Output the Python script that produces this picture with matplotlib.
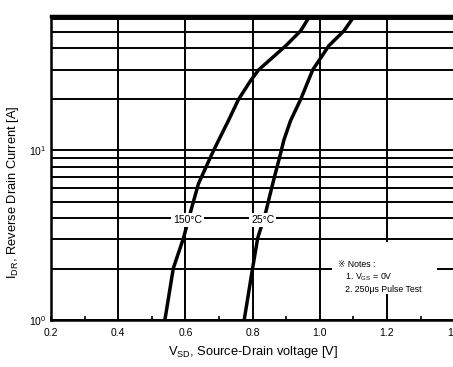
import numpy as np
import matplotlib
matplotlib.use('Agg')
import matplotlib.pyplot as plt
from matplotlib.ticker import FixedLocator, NullFormatter

plt.rcParams['font.family'] = ['Liberation Sans', 'DejaVu Sans']
plt.rcParams['mathtext.default'] = 'regular'

# curve points: (V_SD [V], I_DR [A])
v_150 = [0.538, 0.540, 0.564, 0.594, 0.615, 0.639, 0.681, 0.699, 0.728, 0.758,
         0.794, 0.818, 0.899, 0.943, 0.967]
i_150 = [1.0, 1.03, 2.02, 3.03, 4.32, 6.38, 9.73, 11.5, 15.0, 20.0,
         25.8, 29.9, 41.5, 50.8, 60.6]
v_25 = [0.775, 0.776, 0.800, 0.815, 0.839, 0.860, 0.884, 0.893, 0.913, 0.943,
        0.979, 0.997, 1.027, 1.072, 1.099]
i_25 = [1.0, 1.03, 2.02, 3.03, 4.32, 6.38, 9.73, 11.5, 15.0, 20.0,
        29.9, 33.8, 41.5, 50.8, 60.6]

x_ticks = [0.2, 0.4, 0.6, 0.8, 1.0, 1.2, 1.4]
x_labels = ['0.2', '0.4', '0.6', '0.8', '1.0', '1.2', '1.4']
y_grid = [1, 2, 3, 4, 5, 6, 7, 8, 9, 10, 20, 30, 40, 50, 60]

fig = plt.figure(figsize=(4.53, 3.67), dpi=100)
ax = fig.add_axes([0.1126, 0.128, 0.89, 0.828])

ax.set_yscale('log')
ax.set_xlim(0.2, 1.4)
ax.set_ylim(1, 62)

# grid
for y in y_grid:
    ax.axhline(y, color='black', lw=1.4, zorder=1)
for x in x_ticks:
    ax.axvline(x, color='black', lw=1.4, zorder=1)

ax.plot(v_150, i_150, color='black', lw=2.5, zorder=3)
ax.plot(v_25, i_25, color='black', lw=2.5, zorder=3)

box = dict(facecolor='white', edgecolor='none', pad=1.5)
ax.text(0.606, 3.9, '150°C', fontsize=7.5, ha='center', va='center', bbox=box, zorder=4)
ax.text(0.83, 3.9, '25°C', fontsize=7.5, ha='center', va='center', bbox=box, zorder=4)

# white patch for the notes
ax.fill_between([1.037, 1.35], 1.42, 2.9, color='white', lw=0, zorder=2)
ax.text(1.055, 1.8,
        '※ Notes :\n   1. V$_{GS}$ = 0V\n   2. 250μs Pulse Test',
        fontsize=6.3, ha='left', va='center', linespacing=1.3, zorder=4)

ax.xaxis.set_major_locator(FixedLocator(x_ticks))
ax.set_xticklabels(x_labels)
ax.xaxis.set_minor_locator(FixedLocator([0.3, 0.5, 0.7, 0.9, 1.1, 1.3]))
ax.yaxis.set_major_locator(FixedLocator([1, 10]))
ax.set_yticklabels(['10$^0$', '10$^1$'])
ax.yaxis.set_minor_locator(FixedLocator([2, 3, 4, 5, 6, 7, 8, 9, 20, 30, 40, 50]))
ax.yaxis.set_minor_formatter(NullFormatter())
ax.tick_params(which='both', direction='in', labelsize=7.5, length=3, width=1.2)
ax.tick_params(axis='x', pad=6)

for s in ax.spines.values():
    s.set_linewidth(1.8)
ax.spines['top'].set_linewidth(2.5)

ax.set_xlabel('V$_{SD}$, Source-Drain voltage [V]', fontsize=9.3, labelpad=4)
ax.set_ylabel('I$_{DR}$, Reverse Drain Current [A]', fontsize=9.3)
ax.yaxis.set_label_coords(-0.075, 0.42)

fig.savefig('out.png', dpi=100)
